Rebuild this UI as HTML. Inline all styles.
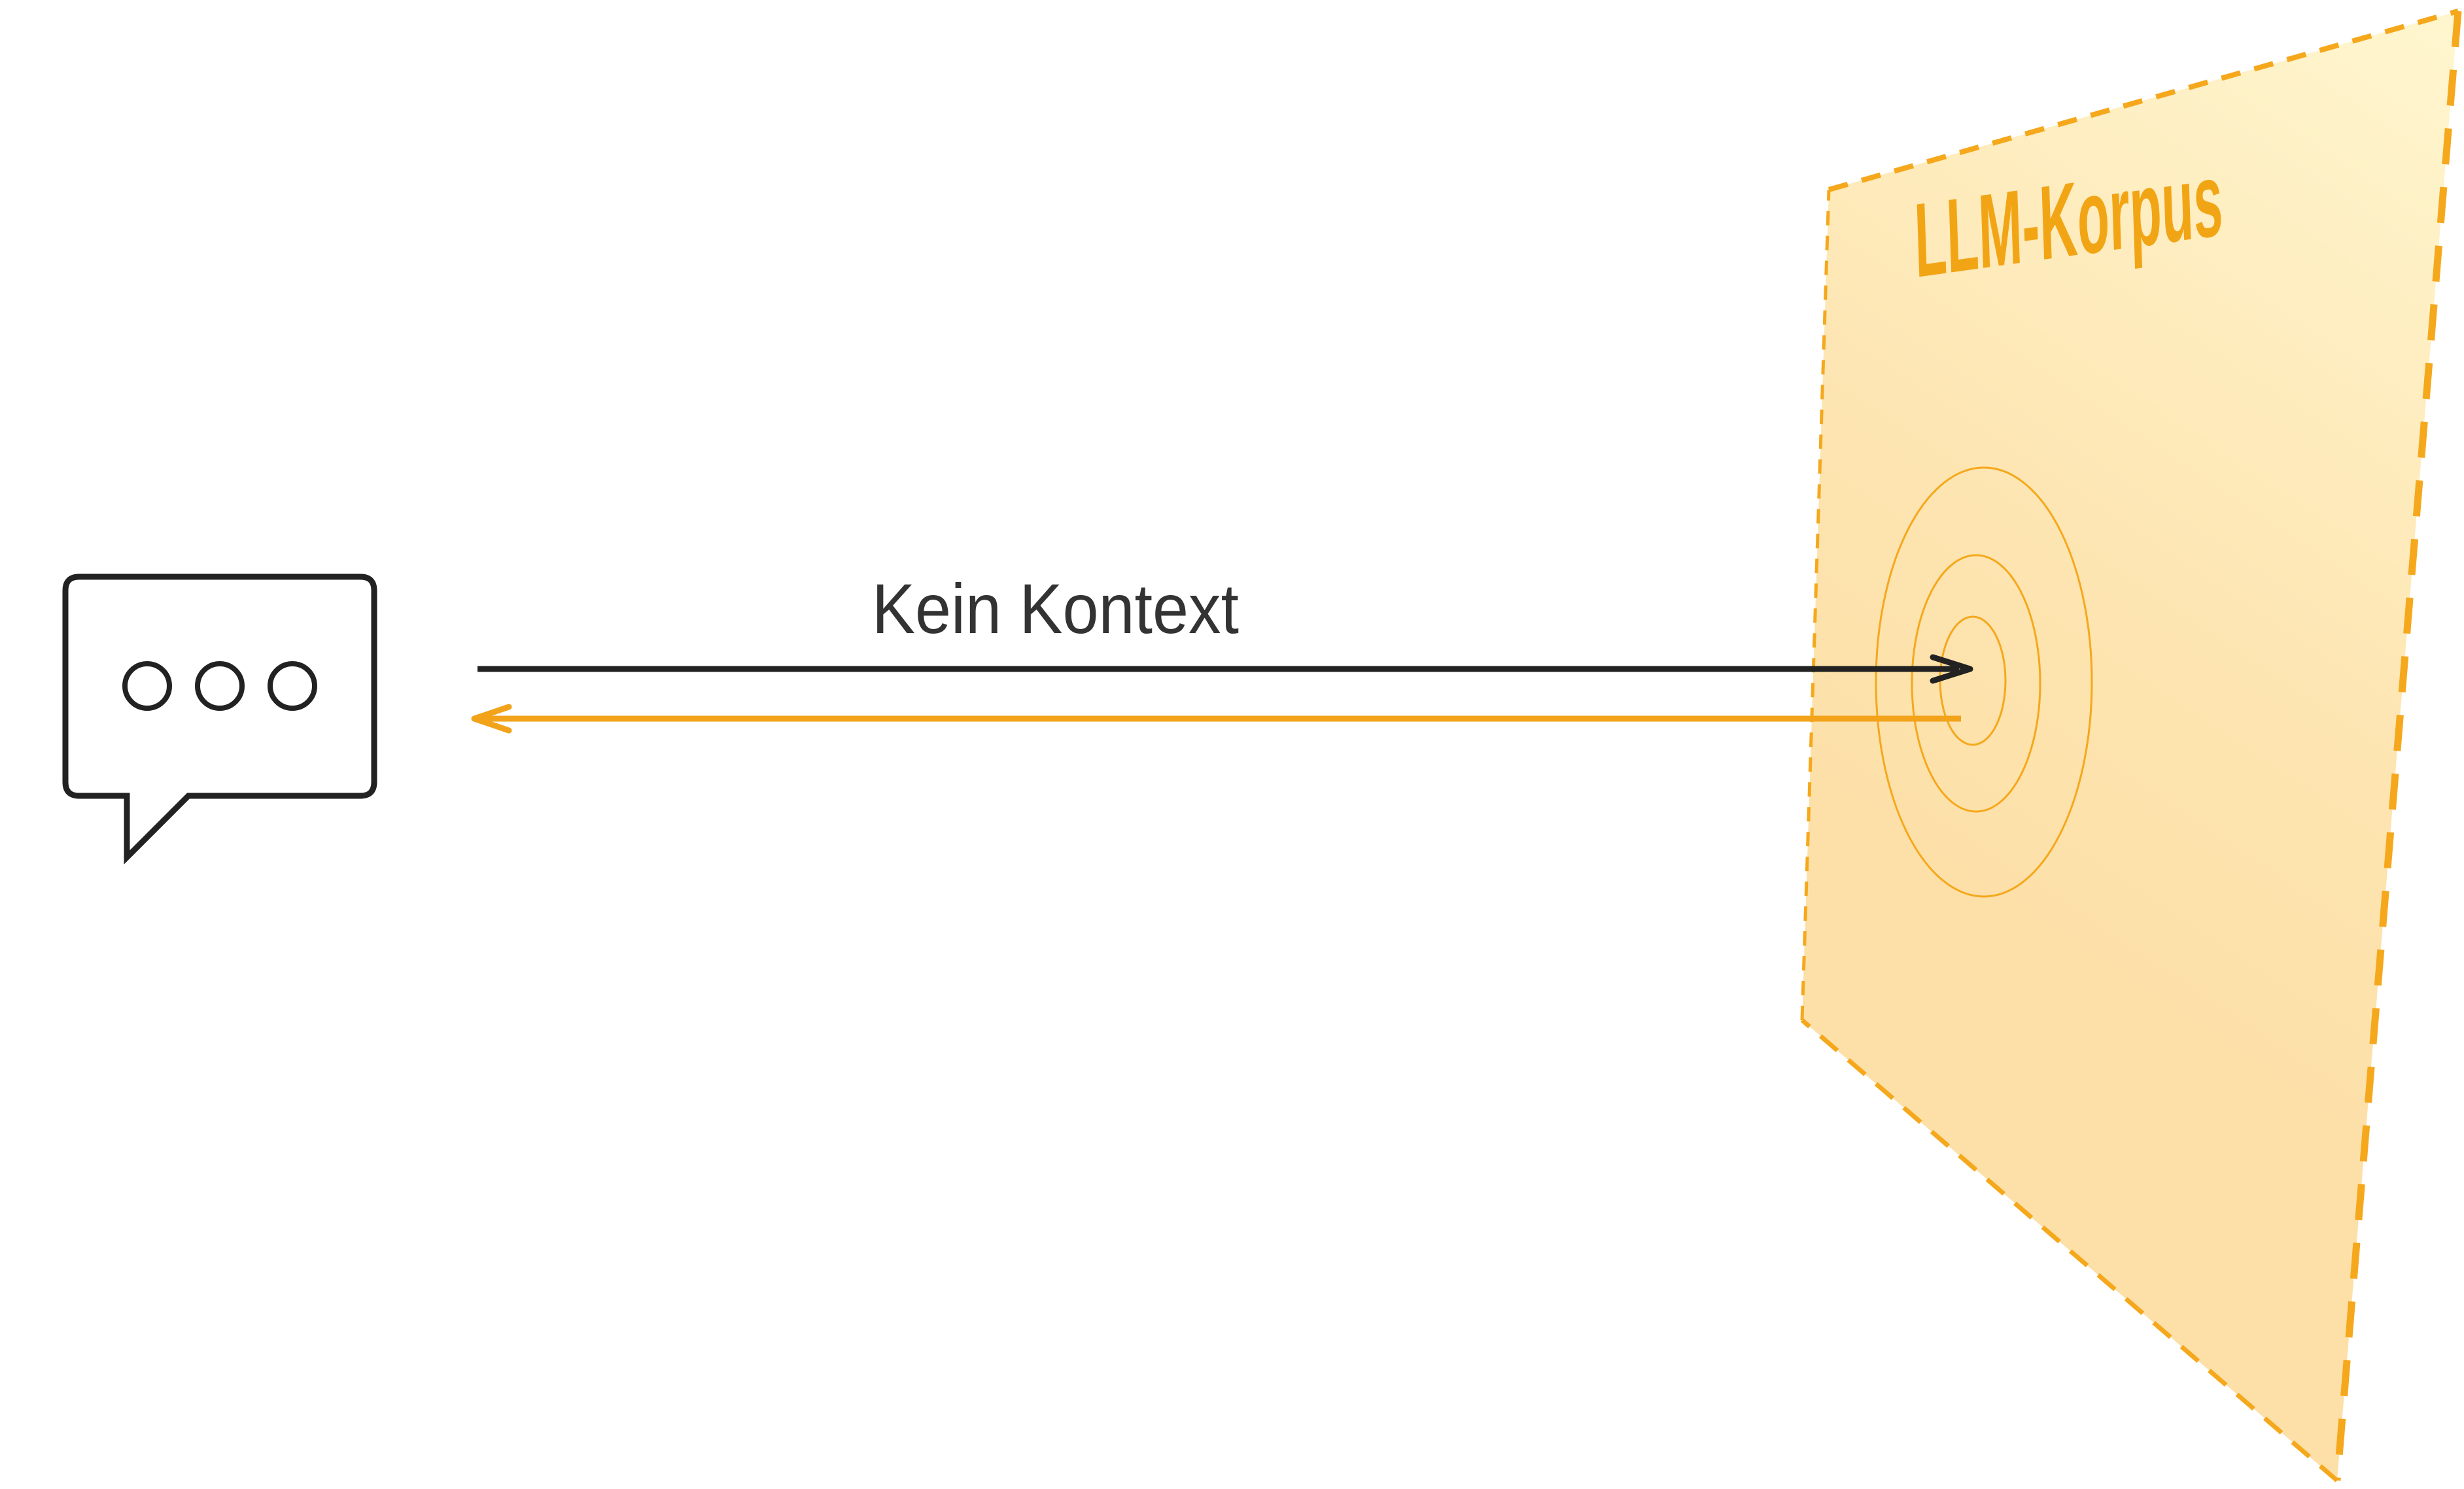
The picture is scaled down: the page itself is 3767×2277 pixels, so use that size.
<!DOCTYPE html>
<html><head><meta charset="utf-8"><style>html,body{margin:0;padding:0;background:#fff}svg{display:block}</style></head>
<body>
<svg width="3767" height="2277" viewBox="0 0 3767 2277" xmlns="http://www.w3.org/2000/svg">
<defs>
<linearGradient id="g" x1="3750" y1="20" x2="2900" y2="1300" gradientUnits="userSpaceOnUse">
<stop offset="0" stop-color="#fff6cf"/><stop offset="0.7" stop-color="#fde4b0"/><stop offset="1" stop-color="#fde0a8"/>
</linearGradient>
</defs>
<polygon points="2796,290 3758,17 3573,2264 2755,1560" fill="url(#g)"/>
<g stroke="#f5a81c" fill="none">
<line x1="2796" y1="290" x2="3758" y2="17" stroke-width="8" stroke-dasharray="30 22"/>
<line x1="3758" y1="17" x2="3573" y2="2264" stroke-width="11" stroke-dasharray="55 35"/>
<line x1="3573" y1="2264" x2="2755" y2="1560" stroke-width="7" stroke-dasharray="34 22"/>
<line x1="2755" y1="1560" x2="2796" y2="290" stroke-width="5" stroke-dasharray="22 16"/>
<ellipse cx="3033" cy="1043" rx="165" ry="328" stroke-width="3"/>
<ellipse cx="3021" cy="1045" rx="98" ry="196" stroke-width="3"/>
<ellipse cx="3016" cy="1041" rx="50" ry="98" stroke-width="3"/>
</g>
<text x="0" y="0" transform="translate(2929,424) rotate(-7.9) skewX(-6)" font-family="Liberation Sans, sans-serif" font-weight="bold" font-size="160" fill="#f2a514" textLength="475" lengthAdjust="spacingAndGlyphs">LLM-Korpus</text>
<line x1="730" y1="1023" x2="2995" y2="1023" stroke="#222" stroke-width="9"/>
<path d="M2955,1005 L3012,1023 L2955,1041" fill="none" stroke="#222" stroke-width="9" stroke-linecap="round" stroke-linejoin="round"/>
<line x1="735" y1="1099" x2="2998" y2="1099" stroke="#f2a31a" stroke-width="9"/>
<path d="M778,1081 L725,1099 L778,1117" fill="none" stroke="#f2a31a" stroke-width="9" stroke-linecap="round" stroke-linejoin="round"/>
<text x="1333" y="968" font-family="Liberation Sans, sans-serif" font-size="108" fill="#333" textLength="561" lengthAdjust="spacingAndGlyphs">Kein Kontext</text>
<path d="M121,882 H551 Q572,882 572,903 V1196 Q572,1217 551,1217 H288 L194,1311 V1217 H121 Q100,1217 100,1196 V903 Q100,882 121,882 Z" fill="#fff" stroke="#222" stroke-width="9" stroke-linejoin="miter"/>
<g fill="none" stroke="#222" stroke-width="8">
<circle cx="225" cy="1049" r="34"/><circle cx="336" cy="1049" r="34"/><circle cx="447" cy="1049" r="34"/>
</g>
</svg>
</body></html>
